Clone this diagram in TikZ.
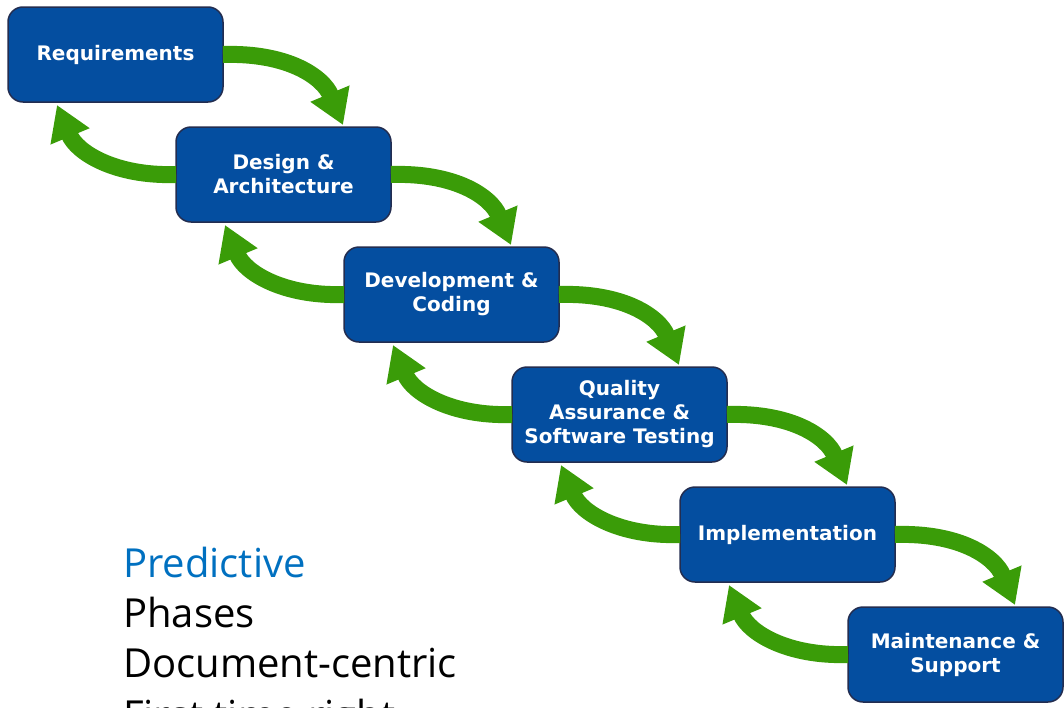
\documentclass[tikz,border=0pt]{standalone}
\usepackage{fontspec}
\setmainfont{Open Sans}
\newfontfamily\boxfont{DejaVu Sans}
\usetikzlibrary{arrows.meta}
\definecolor{boxblue}{RGB}{4,78,160}
\definecolor{boxline}{RGB}{35,45,80}
\definecolor{arrowgreen}{RGB}{58,156,8}
\definecolor{titleblue}{RGB}{0,112,192}
\tikzset{
  phase/.style={draw=boxline, line width=1.5pt, fill=boxblue, rounded corners=15pt,
    minimum width=215pt, minimum height=95pt, inner sep=0pt, outer sep=0pt,
    text=white, align=center,
    font=\boxfont\bfseries\fontsize{20}{24}\selectfont},
  fwd/.style={draw=arrowgreen, line width=17pt,
    -{Triangle[length=34pt,width=40pt]}},
  listtext/.style={anchor=base west, inner sep=0pt, font=\fontsize{40}{50}\selectfont}
}
\begin{document}
\begin{tikzpicture}[x=1pt,y=-1pt]
\useasboundingbox (0,0) rectangle (1064,707);
% boxes
\node[phase] (b1) at (115.5,54.5) {Requirements};
\node[phase] (b2) at (283.5,174.5) {Design \&\\Architecture};
\node[phase] (b3) at (451.5,294.5) {Development \&\\Coding};
\node[phase] (b4) at (619.5,414.5) {Quality\\Assurance \&\\Software Testing};
\node[phase] (b5) at (787.5,534.5) {Implementation};
\node[phase] (b6) at (955.5,654.5) {Maintenance \&\\Support};
% arrows
\foreach \a/\b in {b1/b2,b2/b3,b3/b4,b4/b5,b5/b6}{
  \draw[fwd] (\a.east) .. controls +(65,-2) and +(-20,-48) .. ([xshift=-48pt,yshift=2pt]\b.north east);
  \draw[fwd] (\b.west) .. controls +(-60,2) and +(20,48) .. ([xshift=49pt,yshift=-3pt]\a.south west);
}
% list text
\node[listtext, text=titleblue] (t1) at (123,577) {Predictive};
\node[listtext] (t2) at (123,627) {Phases};
\node[listtext] (t3) at (123,677) {Document-centric};
\node[listtext] (t4) at (123,729) {First time right};
\end{tikzpicture}
\end{document}
